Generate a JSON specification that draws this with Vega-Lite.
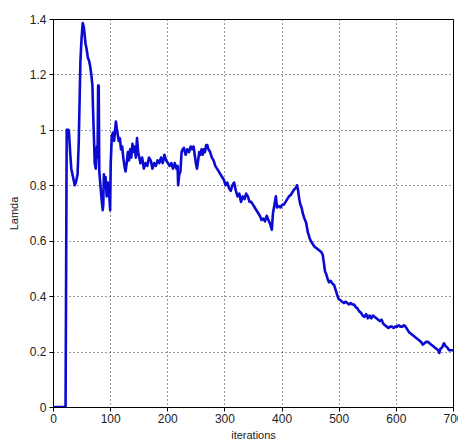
{
  "$schema": "https://vega.github.io/schema/vega-lite/v6.json",
  "width": 400,
  "height": 388,
  "autosize": {"type": "none"},
  "padding": {"left": 53, "top": 19, "right": 5, "bottom": 40},
  "background": "white",
  "config": {
    "view": {"stroke": "#000", "strokeWidth": 1},
    "axis": {
      "labelFont": "Liberation Sans",
      "titleFont": "Liberation Sans",
      "labelFontSize": 12,
      "titleFontSize": 11,
      "titleFontWeight": "normal",
      "labelColor": "#222",
      "titleColor": "#222",
      "domainColor": "#000",
      "tickColor": "#000",
      "tickSize": 4,
      "gridColor": "#000",
      "gridDash": [1, 3],
      "gridOpacity": 0.8,
      "gridWidth": 1
    }
  },
  "data": {
    "values": [
      {"x":0,"y":0},{"x":22,"y":0},{"x":23,"y":0.5},{"x":24,"y":1.0},{"x":27,"y":1.0},{"x":28,"y":0.99},{"x":30,"y":0.92},{"x":32,"y":0.86},{"x":35,"y":0.83},{"x":38,"y":0.8},{"x":40,"y":0.81},{"x":43,"y":0.84},{"x":45,"y":0.95},{"x":46,"y":1.05},{"x":48,"y":1.25},{"x":50,"y":1.33},{"x":52,"y":1.385},{"x":54,"y":1.37},{"x":56,"y":1.33},{"x":57,"y":1.31},{"x":59,"y":1.29},{"x":61,"y":1.26},{"x":63,"y":1.25},{"x":65,"y":1.23},{"x":67,"y":1.2},{"x":69,"y":1.16},{"x":70,"y":1.08},{"x":71,"y":1.01},{"x":72,"y":0.95},{"x":73,"y":0.88},{"x":75,"y":0.86},{"x":77,"y":0.94},{"x":78,"y":0.9},{"x":79,"y":1.16},{"x":80,"y":1.16},{"x":81,"y":0.85},{"x":83,"y":0.8},{"x":85,"y":0.75},{"x":87,"y":0.71},{"x":88,"y":0.73},{"x":89,"y":0.84},{"x":90,"y":0.8},{"x":92,"y":0.83},{"x":94,"y":0.76},{"x":96,"y":0.81},{"x":98,"y":0.78},{"x":100,"y":0.71},{"x":101,"y":0.88},{"x":103,"y":0.98},{"x":105,"y":0.99},{"x":107,"y":0.96},{"x":110,"y":1.03},{"x":112,"y":1.0},{"x":115,"y":0.96},{"x":117,"y":0.97},{"x":119,"y":0.93},{"x":121,"y":0.94},{"x":123,"y":0.9},{"x":125,"y":0.87},{"x":127,"y":0.85},{"x":129,"y":0.88},{"x":131,"y":0.92},{"x":133,"y":0.89},{"x":135,"y":0.93},{"x":137,"y":0.9},{"x":139,"y":0.95},{"x":141,"y":0.92},{"x":143,"y":0.94},{"x":145,"y":0.9},{"x":147,"y":0.97},{"x":149,"y":0.92},{"x":151,"y":0.9},{"x":153,"y":0.88},{"x":156,"y":0.9},{"x":159,"y":0.86},{"x":162,"y":0.88},{"x":165,"y":0.87},{"x":168,"y":0.9},{"x":171,"y":0.89},{"x":174,"y":0.86},{"x":177,"y":0.88},{"x":180,"y":0.87},{"x":183,"y":0.89},{"x":186,"y":0.88},{"x":189,"y":0.9},{"x":192,"y":0.88},{"x":195,"y":0.91},{"x":198,"y":0.89},{"x":201,"y":0.88},{"x":204,"y":0.87},{"x":207,"y":0.88},{"x":210,"y":0.86},{"x":213,"y":0.88},{"x":216,"y":0.86},{"x":218,"y":0.87},{"x":219,"y":0.8},{"x":221,"y":0.84},{"x":223,"y":0.85},{"x":225,"y":0.92},{"x":227,"y":0.93},{"x":229,"y":0.935},{"x":232,"y":0.91},{"x":235,"y":0.93},{"x":238,"y":0.92},{"x":241,"y":0.94},{"x":243,"y":0.93},{"x":246,"y":0.94},{"x":248,"y":0.91},{"x":250,"y":0.88},{"x":252,"y":0.86},{"x":254,"y":0.89},{"x":256,"y":0.92},{"x":258,"y":0.91},{"x":260,"y":0.93},{"x":262,"y":0.91},{"x":264,"y":0.93},{"x":266,"y":0.92},{"x":268,"y":0.945},{"x":270,"y":0.945},{"x":272,"y":0.93},{"x":275,"y":0.92},{"x":278,"y":0.9},{"x":281,"y":0.89},{"x":284,"y":0.87},{"x":287,"y":0.86},{"x":290,"y":0.85},{"x":293,"y":0.84},{"x":296,"y":0.83},{"x":299,"y":0.82},{"x":302,"y":0.8},{"x":305,"y":0.81},{"x":308,"y":0.79},{"x":311,"y":0.78},{"x":314,"y":0.8},{"x":317,"y":0.81},{"x":320,"y":0.78},{"x":323,"y":0.76},{"x":326,"y":0.77},{"x":329,"y":0.74},{"x":332,"y":0.76},{"x":335,"y":0.75},{"x":338,"y":0.77},{"x":341,"y":0.76},{"x":344,"y":0.74},{"x":347,"y":0.74},{"x":350,"y":0.73},{"x":353,"y":0.72},{"x":356,"y":0.71},{"x":359,"y":0.7},{"x":362,"y":0.69},{"x":365,"y":0.675},{"x":368,"y":0.68},{"x":371,"y":0.67},{"x":374,"y":0.69},{"x":377,"y":0.675},{"x":380,"y":0.66},{"x":383,"y":0.64},{"x":385,"y":0.7},{"x":388,"y":0.735},{"x":390,"y":0.76},{"x":392,"y":0.72},{"x":395,"y":0.725},{"x":398,"y":0.72},{"x":401,"y":0.73},{"x":404,"y":0.73},{"x":407,"y":0.74},{"x":410,"y":0.75},{"x":413,"y":0.76},{"x":416,"y":0.765},{"x":419,"y":0.775},{"x":422,"y":0.785},{"x":425,"y":0.79},{"x":427,"y":0.8},{"x":429,"y":0.78},{"x":431,"y":0.75},{"x":433,"y":0.73},{"x":435,"y":0.72},{"x":437,"y":0.7},{"x":440,"y":0.68},{"x":443,"y":0.665},{"x":446,"y":0.63},{"x":449,"y":0.61},{"x":451,"y":0.6},{"x":454,"y":0.59},{"x":457,"y":0.58},{"x":460,"y":0.575},{"x":463,"y":0.57},{"x":466,"y":0.565},{"x":469,"y":0.56},{"x":472,"y":0.55},{"x":474,"y":0.52},{"x":476,"y":0.49},{"x":478,"y":0.48},{"x":481,"y":0.46},{"x":483,"y":0.45},{"x":486,"y":0.455},{"x":489,"y":0.445},{"x":492,"y":0.44},{"x":495,"y":0.42},{"x":498,"y":0.4},{"x":500,"y":0.39},{"x":503,"y":0.385},{"x":506,"y":0.38},{"x":509,"y":0.375},{"x":512,"y":0.38},{"x":515,"y":0.375},{"x":518,"y":0.37},{"x":521,"y":0.375},{"x":524,"y":0.37},{"x":527,"y":0.37},{"x":530,"y":0.36},{"x":533,"y":0.355},{"x":536,"y":0.345},{"x":539,"y":0.34},{"x":542,"y":0.33},{"x":545,"y":0.325},{"x":548,"y":0.335},{"x":551,"y":0.32},{"x":554,"y":0.33},{"x":557,"y":0.32},{"x":560,"y":0.33},{"x":563,"y":0.325},{"x":566,"y":0.32},{"x":569,"y":0.315},{"x":572,"y":0.31},{"x":575,"y":0.315},{"x":578,"y":0.3},{"x":581,"y":0.295},{"x":584,"y":0.29},{"x":587,"y":0.285},{"x":590,"y":0.29},{"x":593,"y":0.29},{"x":596,"y":0.285},{"x":599,"y":0.29},{"x":602,"y":0.29},{"x":605,"y":0.295},{"x":608,"y":0.29},{"x":611,"y":0.29},{"x":614,"y":0.295},{"x":617,"y":0.29},{"x":620,"y":0.28},{"x":623,"y":0.27},{"x":626,"y":0.265},{"x":629,"y":0.26},{"x":632,"y":0.255},{"x":635,"y":0.25},{"x":638,"y":0.245},{"x":641,"y":0.24},{"x":644,"y":0.235},{"x":647,"y":0.225},{"x":650,"y":0.23},{"x":653,"y":0.235},{"x":656,"y":0.235},{"x":659,"y":0.23},{"x":662,"y":0.225},{"x":665,"y":0.22},{"x":668,"y":0.215},{"x":671,"y":0.21},{"x":674,"y":0.205},{"x":676,"y":0.195},{"x":678,"y":0.21},{"x":681,"y":0.215},{"x":684,"y":0.23},{"x":687,"y":0.22},{"x":690,"y":0.215},{"x":693,"y":0.205},{"x":696,"y":0.205},{"x":700,"y":0.205}
    ]
  },
  "mark": {"type": "line", "color": "#0a0ad2", "strokeWidth": 2.6, "strokeJoin": "round", "clip": true},
  "encoding": {
    "x": {
      "field": "x", "type": "quantitative",
      "scale": {"domain": [0, 700], "nice": false, "zero": false},
      "axis": {"title": "iterations", "values": [0,100,200,300,400,500,600,700], "labelPadding": 2, "titlePadding": 5, "labelFlush": false}
    },
    "y": {
      "field": "y", "type": "quantitative",
      "scale": {"domain": [0, 1.4], "nice": false},
      "axis": {"title": "Lamda", "values": [0,0.2,0.4,0.6,0.8,1,1.2,1.4], "format": "~g", "labelPadding": 3, "titlePadding": 10}
    }
  }
}
